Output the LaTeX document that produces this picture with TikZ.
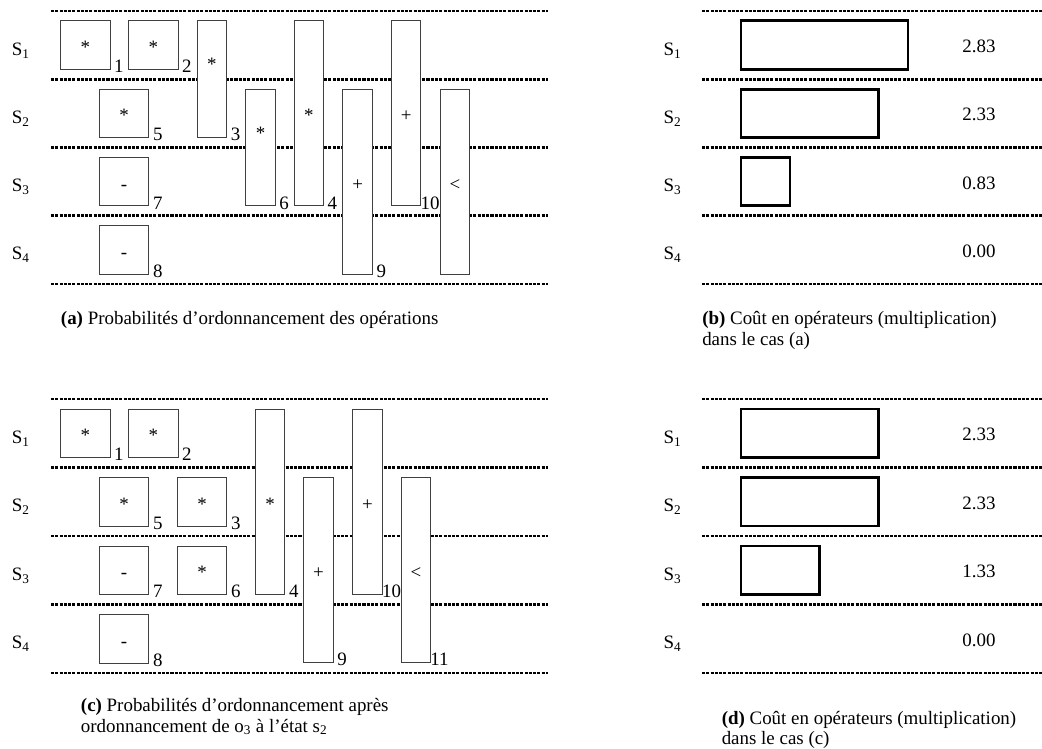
\documentclass[tikz,border=0pt]{standalone}
\usepackage{fontspec}
\setmainfont{Liberation Serif}
\usetikzlibrary{positioning}

\tikzset{
  niveau/.style={line width=2.2pt, dash pattern=on 2.3pt off 0.9pt},
  opbox/.style={draw=black!75, line width=0.7pt, inner sep=0pt, fill=white},
  carre/.style={opbox, minimum width=37pt, minimum height=36.4pt, text height=12.8pt, text depth=0pt},
  haut2/.style={opbox, minimum width=22.1pt, minimum height=87.6pt, text height=0pt, text depth=12.6pt},
  haut3/.style={opbox, minimum width=22.1pt, minimum height=138.8pt, text height=12.8pt, text depth=0pt},
  numop/.style={anchor=base west, xshift=2.6pt, yshift=-2pt, inner sep=0pt},
  numopp/.style={numop, xshift=-3.3pt},
  etat/.style={anchor=base west, inner sep=0pt},
  cout/.style={line width=2.2pt},
  valeur/.style={inner sep=0pt},
  legende/.style={anchor=base west, inner sep=0pt},
}

\begin{document}
\begin{tikzpicture}[x=0.75pt, y=-0.75pt, font=\fontsize{14.2pt}{17pt}\selectfont]
    \useasboundingbox (0,0) rectangle (1042,749);

    % niveaux (etats)
    \foreach \k in {0,...,4} {
        \draw[niveau] (51, 11+68.25*\k) -- (548, 11+68.25*\k);
        \draw[niveau] (702, 11+68.25*\k) -- (1042, 11+68.25*\k);
        \draw[niveau] (51, 399+68.5*\k) -- (548, 399+68.5*\k);
        \draw[niveau] (702, 399+68.5*\k) -- (1042, 399+68.5*\k);
    }
    \foreach \k in {1,...,4} {
        \node[etat] (sa\k) at (11.5, 11+68.25*\k-34.1+10) {S\textsubscript{\k}};
        \node[etat] (sb\k) at (663.3, 11+68.25*\k-34.1+10) {S\textsubscript{\k}};
        \node[etat] (sc\k) at (11.5, 399+68.5*\k-34.25+10) {S\textsubscript{\k}};
        \node[etat] (sd\k) at (663.3, 399+68.5*\k-34.25+10) {S\textsubscript{\k}};
    }

    % (a) probabilites
    \node[carre] (oa1) at (85.35, 45.125) {*};
    \node[carre] (oa2) at (153.35, 45.125) {*};
    \node[haut2] (oa3) at (211.85, 79.25) {*};
    \node[carre] (oa5) at (124.15, 113.375) {*};
    \node[haut2] (oa6) at (260.5, 147.5) {*};
    \node[haut3] (oa4) at (308.8, 113.375) {*};
    \node[haut3] (oa9) at (357.65, 181.625) {+};
    \node[haut3] (oa10) at (406.2, 113.375) {+};
    \node[haut3] (oa11) at (454.85, 181.625) {<};
    \node[carre] (oa7) at (124.15, 181.625) {-};
    \node[carre] (oa8) at (124.15, 249.875) {-};
    \foreach \i in {1,...,9} {
        \node[numop] (na\i) at (oa\i.south east) {\i};
    }
    \node[numopp] (na10) at (oa10.south east) {10};

    % (b) cout
    \foreach \k/\v/\t in {1/2.83/2.83, 2/2.33/2.33, 3/0.83/0.83, 4/0/0.00} {
        \ifdim \v pt>0pt
            \draw[cout] (741, 11+68.25*\k-58.35) rectangle ++(59*\v, 48.5);
        \fi
        \node[valeur] (vb\k) at (979, 11+68.25*\k-34.1+1.4) {\t};
    }

    % (c) apres ordonnancement de o3
    \node[carre] (oc1) at (85.35, 433.25) {*};
    \node[carre] (oc2) at (153.35, 433.25) {*};
    \node[carre] (oc5) at (124.15, 501.75) {*};
    \node[carre] (oc3) at (202.2, 501.75) {*};
    \node[carre] (oc7) at (124.15, 570.25) {-};
    \node[carre] (oc6) at (202.2, 570.25) {*};
    \node[carre] (oc8) at (124.15, 638.75) {-};
    \node[haut3] (oc4) at (270.15, 501.75) {*};
    \node[haut3] (oc9) at (318.5, 570.25) {+};
    \node[haut3] (oc10) at (367.5, 501.75) {+};
    \node[haut3] (oc11) at (415.85, 570.25) {<};
    \foreach \i in {1,...,9} {
        \node[numop] (nc\i) at (oc\i.south east) {\i};
    }
    \node[numopp] (nc10) at (oc10.south east) {10};
    \node[numopp] (nc11) at (oc11.south east) {11};

    % (d) cout
    \foreach \k/\v/\t in {1/2.33/2.33, 2/2.33/2.33, 3/1.33/1.33, 4/0/0.00} {
        \ifdim \v pt>0pt
            \draw[cout] (741, 399+68.5*\k-58.5) rectangle ++(59*\v, 48.5);
        \fi
        \node[valeur] (vd\k) at (979, 399+68.5*\k-34.25+1.4) {\t};
    }

    % legendes
    \node[legende] (lega) at (60.7, 324.5) {\textbf{(a)} Probabilités d’ordonnancement des opérations};
    \node[legende] (legb1) at (702, 324.5) {\textbf{(b)} Coût en opérateurs (multiplication)};
    \node[legende] (legb2) at (702, 345) {dans le cas (a)};
    \node[legende] (legc1) at (80.7, 711) {\textbf{(c)} Probabilités d’ordonnancement après};
    \node[legende] (legc2) at (80.7, 732) {ordonnancement de o\textsubscript{3} à l’état s\textsubscript{2}};
    \node[legende] (legd1) at (721.5, 724) {\textbf{(d)} Coût en opérateurs (multiplication)};
    \node[legende] (legd2) at (721.5, 744) {dans le cas (c)};
\end{tikzpicture}
\end{document}
